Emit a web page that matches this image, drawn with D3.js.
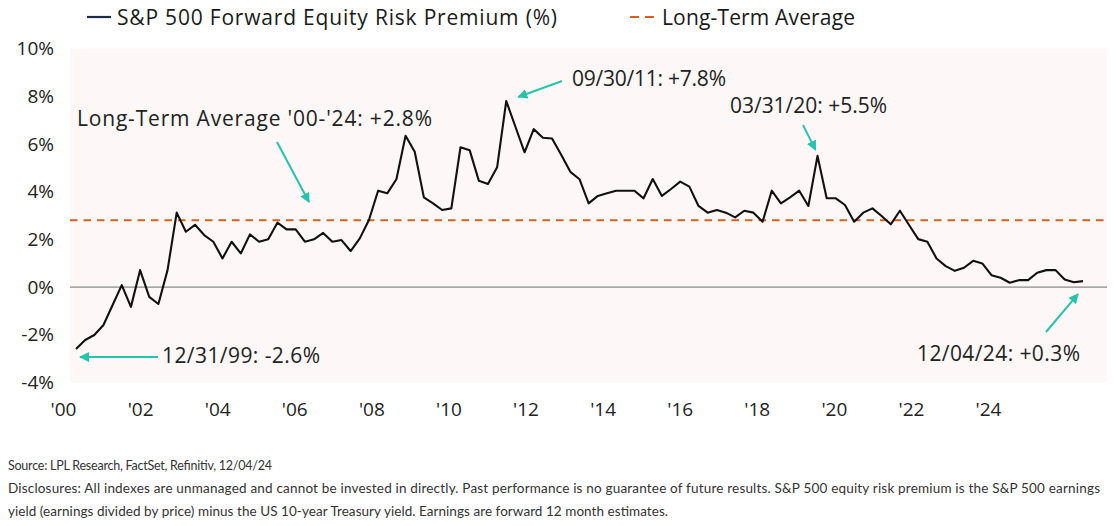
<!DOCTYPE html>
<html><head><meta charset="utf-8">
<script src="https://cdn.jsdelivr.net/npm/d3@7"></script>
<style>body{margin:0;background:#fff}svg{display:block}</style>
</head><body><svg id="c" width="1117" height="526"></svg>
<script>
// S&P 500 forward equity risk premium (%), one value per observation, 12/31/99 .. 12/04/24
const premium = [
 -2.6,-2.22,-2.01,-1.59,-0.75,0.08,-0.83,0.71,-0.41,-0.71,
 0.71,3.12,2.32,2.61,2.18,1.90,1.20,1.90,1.41,2.21,
 1.90,2.00,2.70,2.42,2.42,1.90,2.00,2.27,1.90,1.97,
 1.51,2.04,2.81,4.04,3.93,4.52,6.34,5.67,3.76,3.51,
 3.23,3.30,5.86,5.74,4.46,4.32,5.02,7.8,6.72,5.65,
 6.62,6.26,6.23,5.55,4.83,4.52,3.51,3.82,3.93,4.04,
 4.04,4.04,3.72,4.53,3.82,4.11,4.42,4.21,3.40,3.12,
 3.23,3.12,2.92,3.20,3.12,2.74,4.04,3.51,3.76,4.04,
 3.40,5.5,3.72,3.72,3.44,2.74,3.12,3.30,2.98,2.63,
 3.20,2.60,2.01,1.90,1.20,0.88,0.68,0.81,1.10,0.99,
 0.50,0.39,0.18,0.29,0.29,0.60,0.71,0.71,0.32,0.20,0.25
];
const longTermAverage = 2.8;
const yTicks = [-4,-2,0,2,4,6,8,10];
const xTickYears = [2000,2002,2004,2006,2008,2010,2012,2014,2016,2018,2020,2022,2024];
const xTickLabels = ["'00","'02","'04","'06","'08","'10","'12","'14","'16","'18","'20","'22","'24"];
const seriesName = "S&P 500 Forward Equity Risk Premium (%)";
const avgName = "Long-Term Average";
const annoTexts = ["12/31/99: -2.6%","Long-Term Average '00-'24: +2.8%","09/30/11: +7.8%","03/31/20: +5.5%","12/04/24: +0.3%"];
const sourceText = "Source: LPL Research, FactSet, Refinitiv, 12/04/24";
const disclosure1 = "Disclosures: All indexes are unmanaged and cannot be invested in directly. Past performance is no guarantee of future results. S&P 500 equity risk premium is the S&P 500 earnings";
const disclosure2 = "yield (earnings divided by price) minus the US 10-year Treasury yield. Earnings are forward 12 month estimates.";

const svg = d3.select("#c");
const FONT = "'Open Sans', 'Noto Sans', sans-serif";
const plot = {l:70, r:1107, t:48.5, b:382.5};
const teal = "#25C4AC", orange = "#D9601A";

const y = d3.scaleLinear().domain([-4,10]).range([plot.b, plot.t]);
const x = d3.scaleLinear().domain([0, premium.length-1]).range([76, 1083]);
const xYear = d3.scaleLinear().domain([2000,2024]).range([63, 988]);

svg.append("rect").attr("x",plot.l).attr("y",plot.t).attr("width",plot.r-plot.l).attr("height",plot.b-plot.t).attr("fill","#FDF8F7");

// y axis labels
const yAxis = svg.append("g").attr("transform",`translate(${plot.l},0)`)
  .call(d3.axisLeft(y).tickValues(yTicks).tickSize(0).tickPadding(16).tickFormat(d=>d+"%"));
yAxis.select(".domain").remove();
yAxis.selectAll("text").attr("font-family",FONT).attr("font-size",19).attr("fill","#222");

// x axis labels
const xAxis = svg.append("g").attr("transform",`translate(0,${plot.b})`)
  .call(d3.axisBottom(xYear).tickValues(xTickYears).tickSize(0).tickPadding(20).tickFormat((d,i)=>xTickLabels[i]));
xAxis.select(".domain").remove();
xAxis.selectAll("text").attr("font-family",FONT).attr("font-size",19).attr("fill","#222");

// zero line
svg.append("line").attr("x1",plot.l).attr("x2",plot.r).attr("y1",y(0)).attr("y2",y(0)).attr("stroke","#8a8a8a").attr("stroke-width",1.2);
// long-term average
svg.append("line").attr("x1",plot.l).attr("x2",plot.r).attr("y1",y(longTermAverage)).attr("y2",y(longTermAverage))
  .attr("stroke",orange).attr("stroke-width",2.2).attr("stroke-dasharray","7.5,6");

// series
svg.append("path").datum(premium)
  .attr("d", d3.line().x((d,i)=>x(i)).y(d=>y(d)))
  .attr("fill","none").attr("stroke","#111").attr("stroke-width",2.1).attr("stroke-linejoin","round");

function txt(parent, t, xx, yy, size, width, color){
  return parent.append("text").attr("x",xx).attr("y",yy).text(t).attr("font-family",FONT).attr("font-size",size)
    .attr("fill",color||"#222").attr("textLength",width).attr("lengthAdjust","spacing");
}

// legend
const lg = svg.append("g");
lg.append("line").attr("x1",87).attr("x2",111).attr("y1",17).attr("y2",17).attr("stroke","#1D2B4F").attr("stroke-width",2.2);
txt(lg, seriesName, 117, 25, 21, 440, "#1a1a1a");
lg.append("line").attr("x1",630).attr("x2",655).attr("y1",17).attr("y2",17).attr("stroke",orange).attr("stroke-width",2.2).attr("stroke-dasharray","9,6");
txt(lg, avgName, 662, 25, 21, 193, "#1a1a1a");

// arrows
const defs = svg.append("defs");
defs.append("marker").attr("id","ah").attr("viewBox","0 0 10 10").attr("refX",9).attr("refY",5)
  .attr("markerWidth",5).attr("markerHeight",5).attr("orient","auto-start-reverse").attr("markerUnits","strokeWidth")
  .append("path").attr("d","M0,0L10,5L0,10z").attr("fill",teal);
function arrow(x1,y1,x2,y2){
  svg.append("line").attr("x1",x1).attr("y1",y1).attr("x2",x2).attr("y2",y2)
    .attr("stroke",teal).attr("stroke-width",2).attr("marker-end","url(#ah)");
}
// 12/31/99
arrow(158, y(premium[0])+8, x(0)+4, y(premium[0])+8);
txt(svg, annoTexts[0], 162, 363, 21, 158);
// long-term average
arrow(277, 142, 309, 202);
txt(svg, annoTexts[1], 77, 126, 21, 355);
// 09/30/11
arrow(562, 81, x(47)+12, y(premium[47])-4);
txt(svg, annoTexts[2], 572, 86, 21, 154);
// 03/31/20
arrow(803, 125, x(81)-2, y(premium[81])-6);
txt(svg, annoTexts[3], 730, 113, 21, 157);
// 12/04/24
arrow(1046, 332, x(110)-5, y(premium[110])+13);
txt(svg, annoTexts[4], 917, 361, 21, 163);

// footer
const ft = svg.append("g");
txt(ft, sourceText, 8, 470, 12.5, 264, "#333").attr("font-family","Lato, sans-serif");
txt(ft, disclosure1, 8, 493, 13.5, 1092, "#333").attr("font-family","Lato, sans-serif");
txt(ft, disclosure2, 8, 516, 13.5, 660, "#333").attr("font-family","Lato, sans-serif");
</script></body></html>
